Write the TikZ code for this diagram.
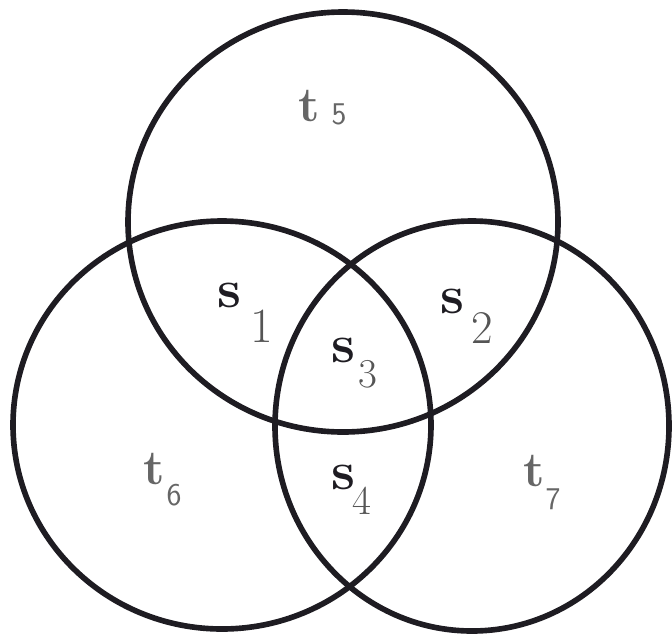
\documentclass[tikz,border=0pt]{standalone}
\usepackage{fontspec}
\definecolor{inkline}{HTML}{1E1C22}
\definecolor{labgray}{HTML}{666666}
\definecolor{subgray}{HTML}{555555}
\tikzset{
  ring/.style={draw=inkline,line width=4.8pt},
  setlab/.style={inner sep=0pt,text=inkline,font=\fontsize{46}{50}\selectfont\bfseries},
  setsub/.style={inner sep=0pt,text=subgray,font=\fontsize{#1}{46}\selectfont},
  setsub/.default=41,
  reglab/.style={inner sep=0pt,text=labgray,font=\fontsize{42}{46}\selectfont\bfseries},
  regsub/.style={inner sep=0pt,text=labgray,font=\fontsize{27}{30}\selectfont\sffamily},
}
\begin{document}
\begin{tikzpicture}[x=0.03cm,y=-0.03cm]
\useasboundingbox (0,0) rectangle (672,634);
% the three sets
\draw[ring] (343,222) ellipse [x radius=215,y radius=210];
\draw[ring] (222,425) ellipse [x radius=209,y radius=204];
\draw[ring] (472,426) ellipse [x radius=197,y radius=205];
% overlaps
\foreach \k/\x/\y/\sx/\sy/\fs in {1/229/295/262/326/42, 2/452/301/482/328/40, 3/343/350/368/374/35, 4/343/477/362/501/35}{
  \node[setlab] (s\k) at (\x,\y) {s};
  \node[setsub=\fs] (s\k sub) at (\sx,\sy) {\k};
}
% outer parts
\foreach \k/\x/\y/\sx/\sy in {5/309/106/339/114, 6/154/469/174/495, 7/534/471/553/499}{
  \node[reglab] (t\k) at (\x,\y) {t};
  \node[regsub] (t\k sub) at (\sx,\sy) {\k};
}
\end{tikzpicture}
\end{document}
